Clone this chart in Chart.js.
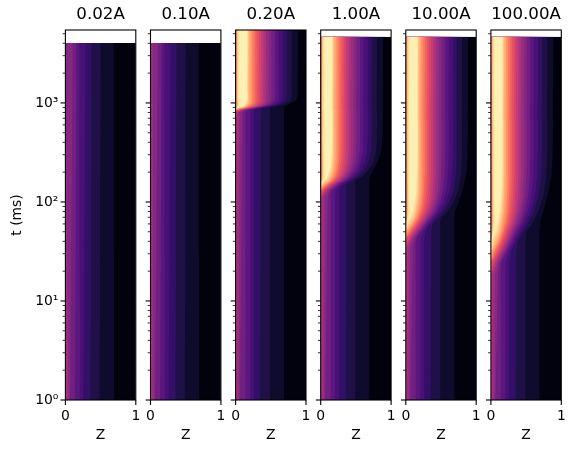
<!DOCTYPE html>
<html>
<head>
<meta charset="utf-8">
<style>
  html, body { margin: 0; background: #fff; }
  #wrap { position: relative; width: 575px; height: 453px; overflow: hidden; }
  canvas { position: absolute; top: 0; }
</style>
<script src="https://cdn.jsdelivr.net/npm/chart.js@4"></script>
</head>
<body>
<div id="wrap"></div>
<script>
var panelLabels = ['0.02A', '0.10A', '0.20A', '1.00A', '10.00A', '100.00A'];

// one colour per contour band, dark (high Z) to bright
var levelColors = ['#02020e', '#0f0b2d', '#1f1147', '#331067', '#491078', '#5c167f', '#711f81',
    '#862781', '#992d80', '#ad347c', '#c33c75', '#d6456c', '#e75263', '#f2635d', '#f97d5d',
    '#fd9668', '#feac76', '#fec286', '#fdd99b', '#fcf0b2'];

var yTicks = [1, 2, 3, 4, 5, 6, 7, 8, 9, 10, 20, 30, 40, 50, 60, 70, 80, 90, 100, 200, 300, 400,
    500, 600, 700, 800, 900, 1000, 2000, 3000, 4000, 5000];
var yLabels = { 1: '10⁰', 10: '10¹', 100: '10²', 1000: '10³' };
var xTicks = [0, 1];

// no heating front: contours stay put from t=1 up to the end of the run
var flatTimes = [1, 30, 4040];
var flatZ1 = [
    [.69, .69, .686], [.49, .495, .5], [.357, .362, .37], [.26, .27, .286], [.205, .203, .2],
    [.14, .148, .157], [.07, .085, .105], [.05, .03, 0], [.025, 0, 0]
];
var flatZ2 = [
    [.69, .69, .686], [.49, .495, .5], [.357, .362, .37], [.26, .27, .286], [.205, .203, .2],
    [.14, .148, .157], [.07, .085, .105], [.05, .04, .035], [.025, 0, 0]
];

// times at which the columns of frontZ / edgeZ apply in each panel with a front
var times3 = [1, 793, 840, 870, 890, 911, 933, 966, 1012, 1072, 1148, 1291, 5500];
var times4 = [1, 112, 129, 142, 156, 167, 183, 211, 254, 335, 475, 850, 4650];
var times5 = [1, 34.3, 43.3, 51, 60, 68.9, 81, 100, 132, 201, 335, 673, 4650];
var times6 = [1, 18.3, 24.8, 31.2, 39.4, 49.8, 62.8, 83, 118, 187, 335, 673, 4650];

// contour position in Z, one row per level, bands 1..19
var frontZ = [
    [.69, .69, .69, .69, .69, .69, .70, .75, .81, .865, .88, .885, .885],
    [.49, .49, .49, .49, .49, .50, .60, .68, .75, .79, .80, .80, .80],
    [.357, .36, .36, .36, .38, .46, .54, .62, .68, .715, .725, .725, .725],
    [.26, .26, .26, .28, .35, .42, .50, .57, .63, .66, .67, .67, .67],
    [.205, .205, .21, .25, .32, .39, .46, .53, .575, .605, .61, .61, .61],
    [.14, .14, .15, .22, .29, .36, .43, .49, .53, .555, .56, .56, .56],
    [.07, .10, .13, .20, .27, .33, .40, .45, .49, .505, .51, .51, .51],
    [.05, .06, .11, .18, .25, .31, .37, .42, .455, .47, .47, .47, .47],
    [.025, .03, .09, .16, .23, .29, .345, .39, .42, .43, .43, .43, .43],
    [0, 0, .07, .14, .21, .265, .32, .36, .385, .395, .395, .395, .395],
    [0, 0, .05, .12, .19, .24, .295, .33, .35, .36, .36, .36, .36],
    [0, 0, .03, .10, .17, .22, .27, .30, .32, .33, .33, .33, .33],
    [0, 0, .01, .08, .15, .20, .245, .27, .29, .30, .30, .30, .30],
    [0, 0, 0, .06, .13, .18, .22, .245, .26, .27, .27, .27, .27],
    [0, 0, 0, .04, .11, .16, .195, .22, .235, .24, .24, .24, .24],
    [0, 0, 0, .02, .09, .14, .17, .195, .21, .215, .215, .215, .215],
    [0, 0, 0, 0, .07, .12, .15, .175, .185, .19, .19, .19, .19],
    [0, 0, 0, 0, .04, .095, .13, .155, .17, .175, .175, .175, .175],
    [0, 0, 0, 0, 0, .07, .10, .13, .15, .16, .165, .165, .165]
];

// values drop again right at Z=0, these are painted last over the bright bands
var edgeLevels = [18, 16, 14];
var edgeZ = [
    [0, 0, 0, 0, 0, .035, .055, .05, .05, .05, .05, .05, .05],
    [0, 0, 0, 0, 0, .02, .03, .03, .03, .027, .025, .025, .025],
    [0, 0, 0, 0, 0, .008, .012, .012, .012, .012, .012, .012, .012]
];

var panelTimes = [flatTimes, flatTimes, times3, times4, times5, times6];
var panelRows = [flatZ1, flatZ2, frontZ, frontZ, frontZ, frontZ];
var panelEdges = [[], [], edgeZ, edgeZ, edgeZ, edgeZ];

function band(times, row, color) {
    var pts = times.map(function (t, i) { return { x: row[i], y: t }; });
    // run back to Z=0 at the last time so the top of the band stays level
    pts.push({ x: 0, y: times[times.length - 1] });
    return {
        data: pts,
        backgroundColor: color,
        borderWidth: 0,
        pointRadius: 0,
        fill: 'origin',
        // tension 0 would use the fast path, which merges points sharing an x pixel
        tension: 0.001
    };
}

function buildDatasets(p) {
    var times = panelTimes[p];
    var sets = [band(times, times.map(function () { return 1; }), levelColors[0])];
    panelRows[p].forEach(function (row, k) {
        sets.push(band(times, row, levelColors[k + 1]));
    });
    panelEdges[p].forEach(function (row, k) {
        sets.push(band(times, row, levelColors[edgeLevels[k]]));
    });
    // later bands paint over earlier ones
    sets.forEach(function (s, i) { s.order = sets.length - i; });
    return sets;
}

// frame and tick marks go on top of the filled bands
var framePlugin = {
    id: 'frame',
    afterDraw: function (chart) {
        var c = chart.ctx, a = chart.chartArea;
        c.save();
        c.strokeStyle = '#000';
        chart.scales.y.ticks.forEach(function (tick) {
            var major = yLabels[tick.value] !== undefined;
            var py = chart.scales.y.getPixelForValue(tick.value);
            c.lineWidth = major ? 1.1 : 0.8;
            c.beginPath();
            c.moveTo(a.left, py);
            c.lineTo(a.left - (major ? 4.9 : 2.8), py);
            c.stroke();
        });
        c.lineWidth = 1.1;
        xTicks.forEach(function (v) {
            var px = chart.scales.x.getPixelForValue(v);
            c.beginPath();
            c.moveTo(px, a.bottom);
            c.lineTo(px, a.bottom + 4.9);
            c.stroke();
        });
        c.strokeRect(a.left, a.top, a.right - a.left, a.bottom - a.top);
        c.restore();
    }
};

Chart.defaults.font.family = "'DejaVu Sans'";
Chart.defaults.color = '#000';

var wrap = document.getElementById('wrap');

panelLabels.forEach(function (label, p) {
    var areaLeft = 65.4 + 85.1 * p;
    var areaRight = areaLeft + 70.4;
    var canvasLeft = p === 0 ? 0 : Math.floor(areaLeft) - 8;
    var canvasRight = Math.ceil(areaRight) + 7;

    var canvas = document.createElement('canvas');
    canvas.width = canvasRight - canvasLeft;
    canvas.height = 453;
    canvas.style.left = canvasLeft + 'px';
    wrap.appendChild(canvas);

    new Chart(canvas, {
        type: 'line',
        data: { datasets: buildDatasets(p) },
        plugins: [framePlugin],
        options: {
            indexAxis: 'y',
            responsive: false,
            animation: false,
            events: [],
            layout: { padding: { right: canvasRight - areaRight } },
            plugins: {
                legend: { display: false },
                tooltip: { enabled: false },
                title: {
                    display: true,
                    text: label,
                    fullSize: false,
                    font: { size: 16.67, weight: 'normal' },
                    padding: { top: 5, bottom: 5 }
                }
            },
            scales: {
                x: {
                    type: 'linear',
                    min: 0,
                    max: 1,
                    grid: { display: false, drawTicks: false },
                    border: { display: false },
                    ticks: { stepSize: 1, maxRotation: 0, padding: 8.5, font: { size: 13.9 } },
                    title: {
                        display: true,
                        text: 'Z',
                        font: { size: 13.9 },
                        padding: { top: 0, bottom: 9.7 }
                    },
                    afterFit: function (s) {
                        s.height = 53;
                        s.paddingLeft = 0;
                        s.paddingRight = 0;
                    }
                },
                y: {
                    type: 'logarithmic',
                    min: 1,
                    max: 5450,
                    grid: { display: false, drawTicks: false },
                    border: { display: false },
                    afterBuildTicks: function (s) {
                        s.ticks = yTicks.map(function (v) { return { value: v }; });
                    },
                    ticks: {
                        autoSkip: false,
                        padding: 7,
                        font: { size: 13.9 },
                        callback: function (v) {
                            return p === 0 && yLabels[v] ? yLabels[v] : '';
                        }
                    },
                    title: {
                        display: p === 0,
                        text: 't (ms)',
                        font: { size: 13.9 },
                        padding: { top: 8.7, bottom: 0 }
                    },
                    afterFit: function (s) {
                        s.width = areaLeft - canvasLeft;
                        s.paddingTop = 0;
                        s.paddingBottom = 0;
                    }
                }
            }
        }
    });
});
</script>
</body>
</html>
